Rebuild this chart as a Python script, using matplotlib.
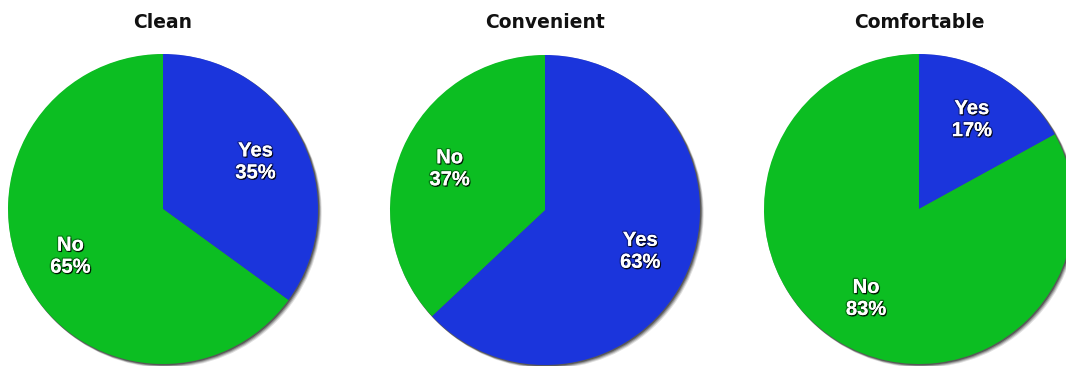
import matplotlib
matplotlib.use("Agg")
import matplotlib.pyplot as plt
import matplotlib.patheffects as pe
from matplotlib.patches import Circle

titles = ["Clean", "Convenient", "Comfortable"]
yes_pct = [35, 63, 17]
no_pct = [65, 37, 83]
slice_labels = ["Yes", "No"]

blue = "#1b35dc"
green = "#0cbe22"

W, H = 1066, 366
fig = plt.figure(figsize=(W / 100, H / 100), dpi=100)
ax = fig.add_axes([0, 0, 1, 1])

# pie centres in pixel units, measured from the top edge
centers = [(163, 209), (545, 210), (919, 209)]
radius = 155

text_fx = [pe.Stroke(linewidth=2.0, foreground="black", alpha=0.35),
           pe.withSimplePatchShadow(offset=(0.8, -1.0), shadow_rgbFace="black", alpha=0.8),
           pe.Normal()]

for title, y, n, (cx, cy) in zip(titles, yes_pct, no_pct, centers):
    c = (cx, H - cy)
    # soft drop shadow under the whole disc
    for k, a in [(4, 0.12), (3, 0.18), (2, 0.25), (1, 0.35)]:
        ax.add_patch(Circle((c[0] + k * 0.8, c[1] - k * 0.8), radius + 0.5,
                            facecolor="black", alpha=a, linewidth=0, zorder=0))
    wedges, texts = ax.pie(
        [y, n],
        colors=[blue, green],
        startangle=90,
        counterclock=False,
        center=c,
        radius=radius,
        labels=[f"{lab}\n{v}%" for lab, v in zip(slice_labels, [y, n])],
        labeldistance=0.67,
        textprops=dict(color="white", fontsize=14.5, fontweight="bold",
                       ha="center", va="center", linespacing=1.2,
                       family="Liberation Sans"),
        wedgeprops=dict(linewidth=0, zorder=1),
        frame=True,
    )
    for t in texts:
        t.set_path_effects(text_fx)
    ax.text(c[0], H - 22, title, ha="center", va="center", fontsize=13.5,
            fontweight="bold", color="#111111", family="DejaVu Sans")

ax.set_xlim(0, W)
ax.set_ylim(0, H)
ax.set_aspect("equal")
ax.axis("off")
fig.savefig("out.png", dpi=100, facecolor="white")
